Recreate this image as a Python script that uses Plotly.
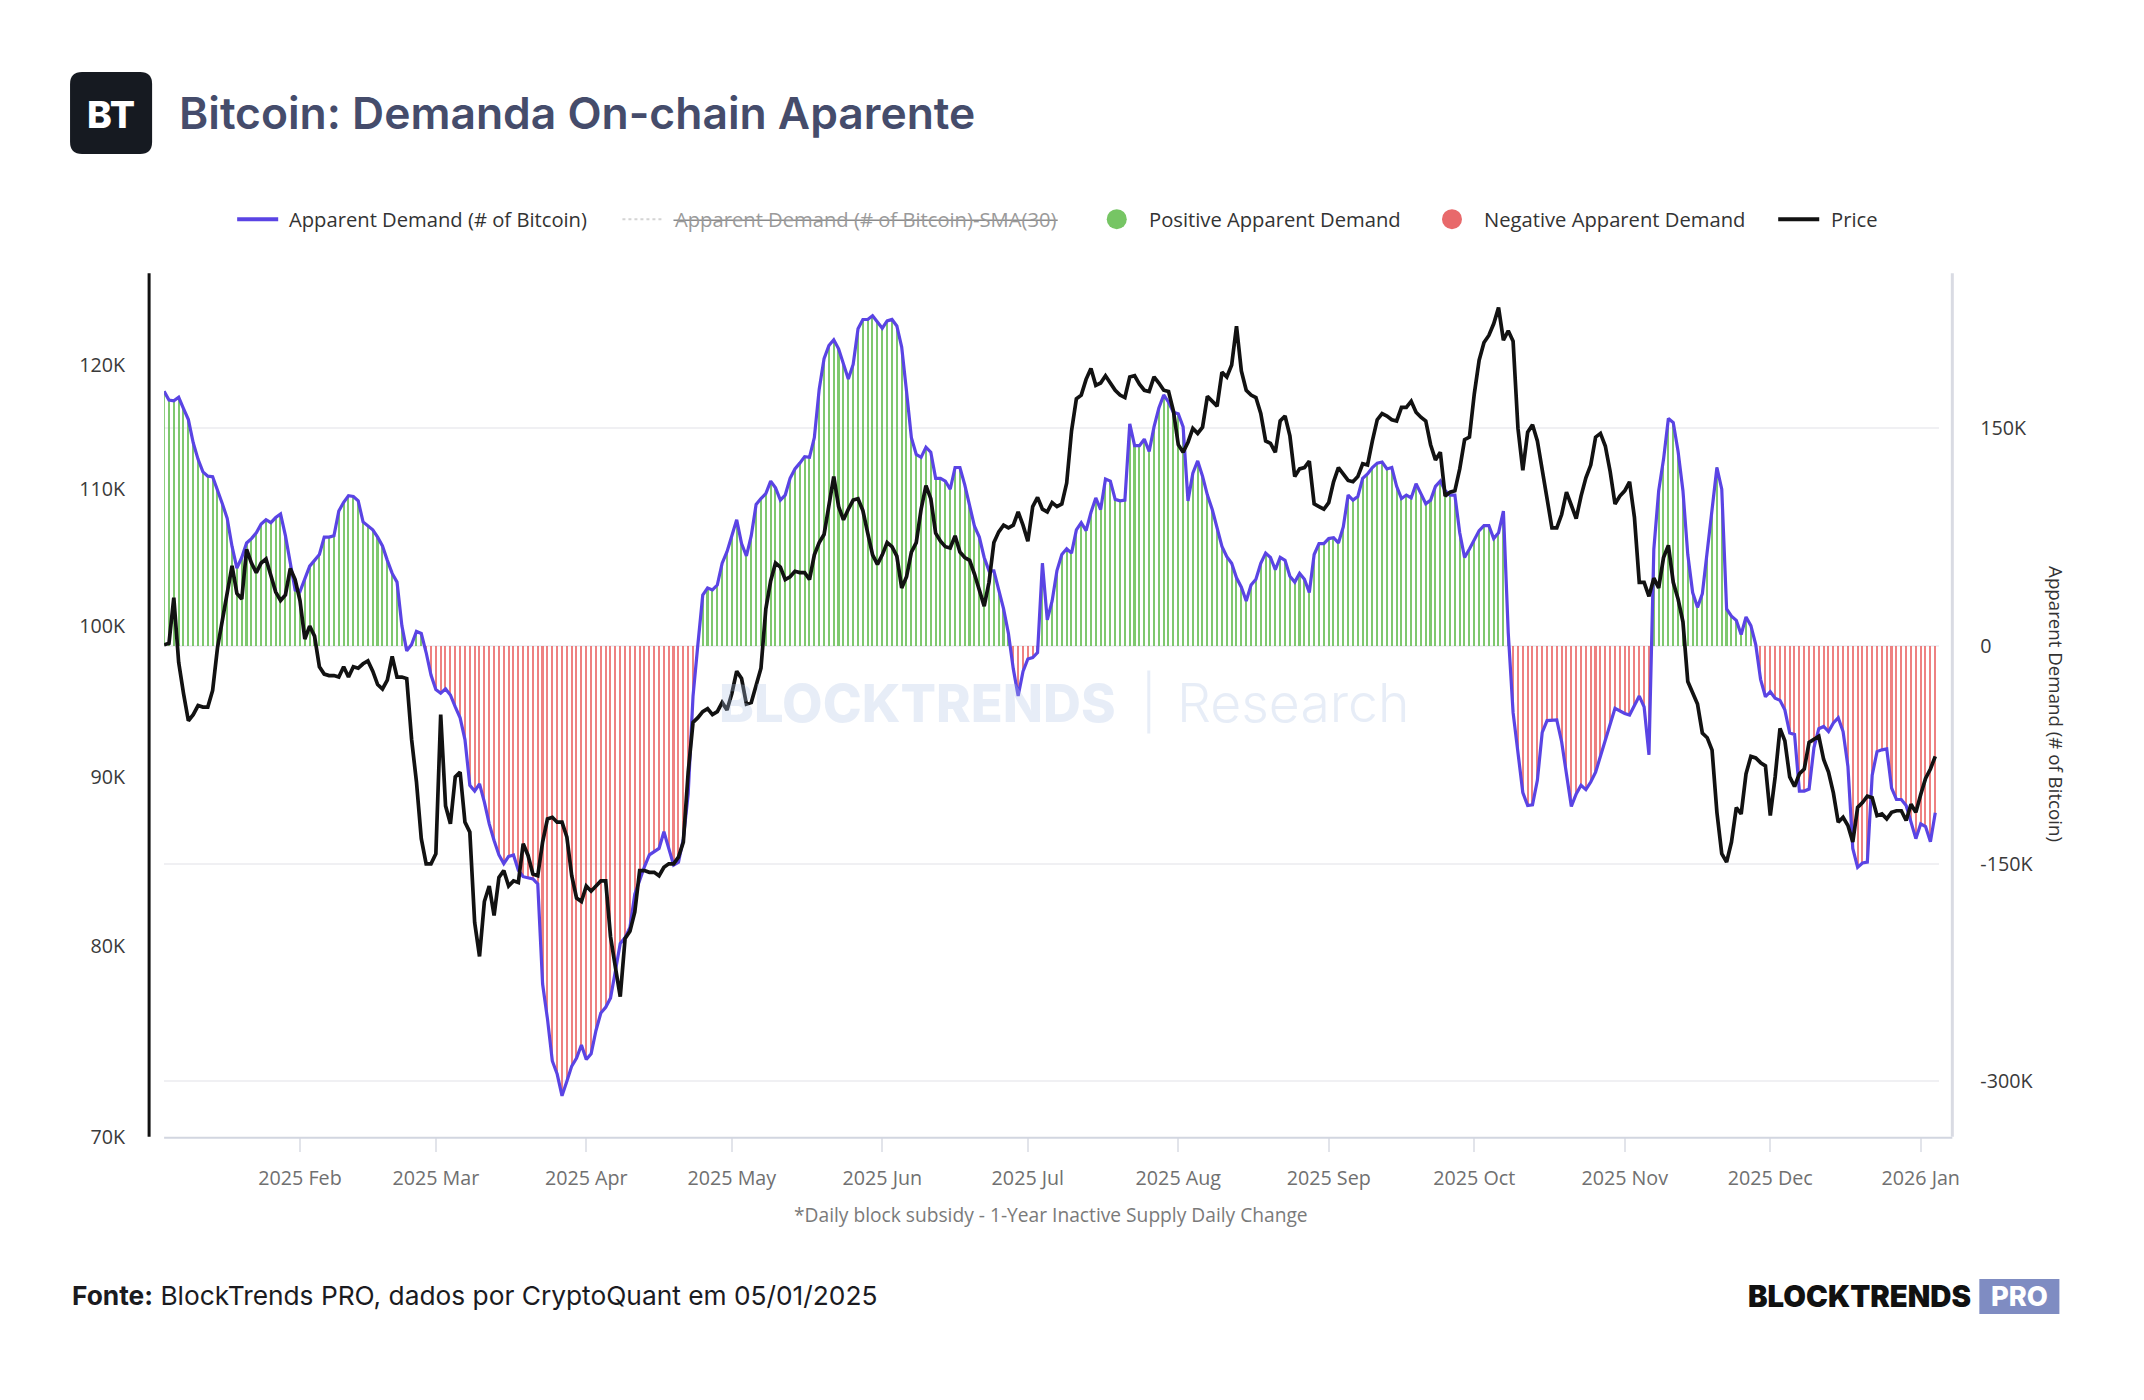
import numpy as np
import pandas as pd
import plotly.graph_objects as go

W, H = 2144, 1400

# ---------------- DATA ----------------
dates = pd.date_range("2025-01-04", "2026-01-04", freq="D")

# Apparent demand (thousands of BTC), daily
demand_k = [
    175.5, 169.5, 169, 171.4, 163.5, 156, 140, 128.6, 120, 117, 116.6, 108, 98, 88, 68.6, 53.6, 61, 71, 74, 78,
    84, 87, 85, 88.5, 91, 76, 57, 38.6, 37.5, 46, 55, 59, 63, 75, 75, 76, 93, 99, 103.5, 103,
    100, 85.5, 82.5, 80, 75, 69, 59, 50, 44, 14, -3.4, 1, 10, 8.6, -4.5, -20, -30, -32.6, -29.6, -33.8,
    -42, -49.5, -64.5, -96, -100, -95, -107.6, -122.6, -134, -144, -150, -145, -144, -154.5, -159, -160, -160.5, -164, -233, -257,
    -286, -295, -310, -300, -289.5, -284, -275, -285, -281, -265, -253, -249, -242.6, -224, -205, -201, -194, -171, -161, -152,
    -144, -142, -139.5, -128, -139.5, -151, -149, -133, -102, -34.5, 1, 35, 40, 38.6, 42, 57, 65, 77, 87, 70.5,
    62, 76, 97.5, 101.6, 105, 113.6, 109, 100.5, 104, 115.5, 122, 126, 130.5, 130, 143.6, 177, 198, 207, 211, 204.8,
    194, 184, 194, 218.6, 225, 225, 227.6, 223.5, 219, 224, 225, 220.5, 206, 175.5, 143.6, 132, 130, 137, 133.5, 115.5,
    115.5, 113.6, 108, 123, 123, 111, 96.8, 82.5, 75, 61, 51.8, 51.8, 38.6, 25.5, 8.6, -15.8, -34.5, -17.6, -9, -8,
    -4.5, 57, 18, 31, 52, 63, 67, 64, 80, 85, 79.5, 92, 102, 94, 115, 113.6, 101, 100, 100.5, 153,
    138, 138, 142.5, 134, 151, 164, 173, 168, 161, 160, 151, 100, 119, 127.5, 117, 104, 94, 82, 68.6, 61.5,
    57, 47, 40.5, 31, 42, 46, 57, 64, 61, 52.5, 61, 59, 48, 44, 50, 46, 36.8, 63, 70.5, 70.5,
    74, 74.6, 71, 82, 104, 100.5, 103, 115.5, 118.5, 123, 126, 126.8, 122, 123, 110, 101.6, 104, 102, 111.8, 105,
    98, 100.5, 110, 113.6, 107, 104, 104, 78, 61, 66.8, 73.5, 79.5, 83, 83, 74, 78, 93, 9, -46, -74,
    -101, -110, -109.5, -92.6, -59.6, -51.4, -51, -51, -66, -87.8, -110.6, -102, -96, -99, -93.8, -87, -76.5, -64.5, -54, -43,
    -45, -46.5, -47.6, -40.5, -34.5, -42, -75, 66.8, 107, 128.6, 156.8, 154, 134, 107, 63, 36.8, 26.6, 36, 65.6, 93,
    123, 108, 25.5, 20.6, 17.6, 7.9, 20, 14, 1, -23, -35, -31.5, -36, -37.5, -44, -60, -61, -100, -100, -98.6,
    -70, -57, -55.5, -59, -53, -49.5, -59, -83, -139.5, -152.6, -149.6, -149, -89, -72.8, -71.6, -71, -98, -105.8, -105.8, -110,
    -120.8, -132.8, -122.6, -124.5, -135, -115,
]

# BTC price (thousands of USD), daily
price_k = [
    98.7, 98.8, 102, 97.5, 95.4, 93.6, 94, 94.6, 94.5, 94.5, 95.6, 98.5, 100.4, 102.5, 104.3, 102.3, 101.9, 105.5, 104.5, 103.8,
    104.5, 104.8, 103.7, 102.4, 101.8, 102.2, 104.1, 103.3, 101.8, 99.1, 100, 99.3, 97.2, 96.7, 96.6, 96.6, 96.5, 97.2, 96.5, 97.2,
    97.1, 97.4, 97.6, 96.9, 96, 95.7, 96.3, 97.9, 96.5, 96.5, 96.4, 92.4, 89.7, 86.2, 84.7, 84.7, 85.3, 94, 88.2, 87.1,
    90, 90.3, 87.2, 86.6, 81.3, 79.4, 82.5, 83.4, 81.7, 83.9, 84.3, 83.4, 83.7, 83.6, 85.9, 85.2, 84.1, 84, 86, 87.4,
    87.5, 87.2, 87.2, 86.3, 84, 82.7, 82.5, 83.4, 83.1, 83.4, 83.7, 83.7, 80.5, 78.8, 77.2, 80.4, 80.8, 81.9, 84.3, 84.3,
    84.2, 84.2, 84, 84.5, 84.7, 84.7, 85.1, 86, 90.3, 93.5, 93.8, 94.2, 94.4, 94, 94.2, 94.8, 94.3, 95.4, 96.9, 96.4,
    94.7, 94.8, 95.9, 97.1, 101.2, 103.2, 104.5, 104.2, 103.3, 103.5, 103.9, 103.8, 103.8, 103.3, 105.1, 106, 106.6, 108.7, 111, 108.7,
    107.7, 108.5, 109.2, 109.3, 108.4, 106.7, 105.1, 104.4, 105.1, 106, 105.7, 105, 102.7, 103.5, 105.3, 106, 108.5, 110.3, 109.3, 106.7,
    106.1, 105.7, 105.6, 106.5, 105.3, 104.9, 104.7, 103.7, 102.5, 101.4, 103.1, 106, 106.8, 107.3, 107.1, 107.3, 108.3, 107.3, 106.1, 108.7,
    109.4, 108.5, 108.3, 109, 108.7, 108.9, 110.5, 114.6, 117.2, 117.5, 118.8, 119.7, 118.3, 118.5, 119.1, 118.5, 117.9, 117.5, 117.3, 119,
    119.1, 118.4, 117.9, 117.8, 119, 118.5, 117.9, 117.8, 116.2, 113.5, 112.9, 113.7, 114.8, 114.4, 114.9, 117.4, 117, 116.6, 119.4, 119,
    120, 123.3, 119.5, 117.9, 117.5, 117.3, 116, 113.8, 113.6, 112.9, 115.4, 115.8, 114.2, 111, 111.6, 111.7, 112.2, 108.9, 108.7, 108.5,
    109, 110.6, 111.7, 111.2, 110.7, 110.6, 111, 112, 111.9, 113.8, 115.5, 116, 115.8, 115.5, 115.4, 116.5, 116.5, 117, 116.1, 115.7,
    115.4, 113.5, 112.3, 112.9, 109.5, 109.8, 109.9, 111.6, 113.9, 114.1, 117.6, 120.4, 121.9, 122.5, 123.5, 124.9, 122.1, 122.9, 122, 114.8,
    111.5, 114.5, 115.1, 113.8, 111.7, 109.3, 107.1, 107.1, 108.1, 109.8, 108.8, 107.8, 109.5, 110.9, 111.9, 114.1, 114.4, 113.4, 111.4, 108.9,
    109.5, 109.9, 110.6, 107.9, 103.1, 103.1, 102.1, 103.4, 102.7, 104.9, 105.8, 103.1, 101.9, 100.3, 96.2, 95.4, 94.7, 92.8, 92.5, 91.7,
    87.8, 85.3, 84.8, 86, 88.1, 87.7, 90.2, 91.3, 91.2, 90.9, 90.7, 87.6, 90, 93.1, 92.3, 90, 89.4, 90.2, 90.5, 92.2,
    92.4, 92.6, 91.1, 90.3, 89, 87.2, 87.5, 87, 86, 88.1, 88.4, 88.8, 88.7, 87.6, 87.7, 87.4, 87.8, 87.9, 87.9, 87.3,
    88.3, 87.8, 88.9, 89.9, 90.5, 91.3,
]

month_ticks = ["2025-02-01", "2025-03-01", "2025-04-01", "2025-05-01", "2025-06-01", "2025-07-01",
               "2025-08-01", "2025-09-01", "2025-10-01", "2025-11-01", "2025-12-01", "2026-01-01"]
month_labels = ["2025 Feb", "2025 Mar", "2025 Apr", "2025 May", "2025 Jun", "2025 Jul",
                "2025 Aug", "2025 Sep", "2025 Oct", "2025 Nov", "2025 Dec", "2026 Jan"]
price_ticks = [70000, 80000, 90000, 100000, 110000, 120000]
price_labels = ["70K", "80K", "90K", "100K", "110K", "120K"]
demand_ticks = [-300000, -150000, 0, 150000]
demand_labels = ["-300K", "-150K", "0", "150K"]

demand = np.array(demand_k) * 1000
price = np.array(price_k) * 1000

# ---------------- STYLE / LAYOUT ----------------
C_DEMAND = "#5a44e4"
C_POS = "rgba(104,190,86,0.85)"
C_NEG = "rgba(234,98,98,0.80)"
C_PRICE = "#121212"

# the captured page comes out slightly shrunk; compensate so positions match
S = 1 / 0.99


def px(x):
    return x * S / W


def py(y):
    return 1 - y * S / H


def fs(size):
    return round(size * S, 1)


PL, PR, PT, PB = 164, 1938, 273, 1136
DAY_MS = 86400000

bar_colors = [C_POS if v >= 0 else C_NEG for v in demand]

fig = go.Figure()
fig.add_trace(go.Bar(x=dates, y=demand, marker=dict(color=bar_colors, line=dict(width=0)),
                     width=0.42 * DAY_MS, yaxis="y", showlegend=False, hoverinfo="skip"))
fig.add_trace(go.Scatter(x=dates, y=demand, mode="lines", line=dict(color=C_DEMAND, width=3.2),
                         yaxis="y", showlegend=False))
fig.add_trace(go.Scatter(x=dates, y=price, mode="lines", line=dict(color=C_PRICE, width=3.7),
                         yaxis="y2", showlegend=False))

x_start = dates[0]
x_end = dates[-1] + pd.Timedelta(hours=20)

# demand axis range from pixel layout: 0 at y=645.5, 217.5 px per 150K
zero_y, per150 = 645.5, 217.5
d_min = -(PB - zero_y) / per150 * 150000
d_max = (zero_y - PT) / per150 * 150000
# price axis (log): 70K at bottom, 1431 px per ln unit
p_top = 70000 * np.exp((PB - PT) / 1431.0)

tick_font = dict(family="Open Sans", size=fs(19.5), color="#3a3a3a")

fig.update_layout(
    width=W, height=H,
    margin=dict(l=0, r=0, t=0, b=0),
    paper_bgcolor="white", plot_bgcolor="white",
    bargap=0,
    xaxis=dict(
        domain=[px(PL), px(PR)], type="date", range=[x_start, x_end],
        tickvals=month_ticks, ticktext=month_labels,
        tickfont=dict(family="Open Sans", size=fs(19.5), color="#707070"),
        ticks="outside", ticklen=14, tickcolor="#e2e4ea", tickwidth=1.5,
        showline=False, showgrid=False, zeroline=False, ticklabelstandoff=10,
    ),
    yaxis=dict(
        domain=[py(PB), py(PT)], side="right", range=[d_min, d_max],
        tickvals=demand_ticks, ticktext=demand_labels, tickfont=tick_font,
        showgrid=True, gridcolor="#f0f0f3", gridwidth=1.5, zeroline=False,
        showline=False, ticks="", ticklabelstandoff=40,
    ),
    yaxis2=dict(
        overlaying="y", side="left", type="log",
        range=[np.log10(70000), np.log10(p_top)],
        tickvals=price_ticks, ticktext=price_labels, tickfont=tick_font,
        showgrid=False, zeroline=False, showline=False, ticks="", ticklabelstandoff=38,
    ),
)

shapes = []
annotations = []


def ann(text, x, y, size, color, xanchor="left", family="Open Sans", weight=None, **kw):
    f = dict(family=family, size=fs(size), color=color)
    if weight:
        f["weight"] = weight
    d = dict(text=text, x=px(x), y=py(y), xref="paper", yref="paper", showarrow=False,
             xanchor=xanchor, yanchor="middle", font=f)
    d.update(kw)
    annotations.append(d)


def hline(x0, x1, y, color, width, dash="solid"):
    shapes.append(dict(type="line", xref="paper", yref="paper", x0=px(x0), x1=px(x1), y0=py(y), y1=py(y),
                       line=dict(color=color, width=width, dash=dash)))


# axis lines
hline(164, 1951, PB + 1, "#d2d6e0", 2)
shapes.append(dict(type="line", xref="paper", yref="paper", x0=px(149), x1=px(149), y0=py(PT), y1=py(PB),
                   line=dict(color="#111111", width=3)))
shapes.append(dict(type="line", xref="paper", yref="paper", x0=px(1951), x1=px(1951), y0=py(PT), y1=py(PB),
                   line=dict(color="#d9dbe3", width=3)))


def rounded_rect(x0, y0, x1, y1, r):
    rx, ry = r * S / W, r * S / H
    X0, X1, Y0, Y1 = px(x0), px(x1), py(y1), py(y0)
    return (f"M {X0+rx},{Y0} L {X1-rx},{Y0} Q {X1},{Y0} {X1},{Y0+ry} L {X1},{Y1-ry} Q {X1},{Y1} {X1-rx},{Y1} "
            f"L {X0+rx},{Y1} Q {X0},{Y1} {X0},{Y1-ry} L {X0},{Y0+ry} Q {X0},{Y0} {X0+rx},{Y0} Z")


# logo + title
shapes.append(dict(type="path", xref="paper", yref="paper", path=rounded_rect(70, 72, 152, 154, 12),
                   fillcolor="#161a21", line=dict(width=0)))
ann("BT", 111, 114, 37, "white", xanchor="center", family="Inter", weight=800)
ann("Bitcoin: Demanda On-chain Aparente", 177, 113, 44, "#454c6b", family="Inter", weight=600)

# custom legend
LY = 219
hline(237, 278, LY, C_DEMAND, 4)
ann("Apparent Demand (# of Bitcoin)", 287, LY, 20, "#333333")
hline(622, 663, LY, "#d4d4d4", 2, "dot")
ann("Apparent Demand (# of Bitcoin)-SMA(30)", 673, LY, 20, "#9a9a9a")
hline(673, 1057, LY + 1, "#8a8a8a", 1.5)
shapes.append(dict(type="circle", xref="paper", yref="paper", x0=px(1106), x1=px(1126), y0=py(LY + 10), y1=py(LY - 10),
                   fillcolor="#76c564", line=dict(width=0)))
ann("Positive Apparent Demand", 1146, LY, 20, "#333333")
shapes.append(dict(type="circle", xref="paper", yref="paper", x0=px(1441), x1=px(1461), y0=py(LY + 10), y1=py(LY - 10),
                   fillcolor="#e8696b", line=dict(width=0)))
ann("Negative Apparent Demand", 1481, LY, 20, "#333333")
hline(1777, 1818, LY, C_PRICE, 4)
ann("Price", 1828, LY, 20, "#333333")

# right axis title
ann("Apparent Demand (# of Bitcoin)", 2055, 704, 18.5, "#333333", xanchor="center", textangle=90)

# x-axis note
ann("*Daily block subsidy - 1-Year Inactive Supply Daily Change", 1050, 1214, 19, "#7a7a7a", xanchor="center")

# watermark
wm = "rgba(175,195,228,0.30)"
ann("BLOCKTRENDS", 917, 702, 52, wm, xanchor="center", family="Inter", weight=800)
shapes.append(dict(type="line", xref="paper", yref="paper", x0=px(1148), x1=px(1148), y0=py(670), y1=py(733),
                   line=dict(color=wm, width=3)))
ann("Research", 1293, 702, 53, wm, xanchor="center", family="Inter", weight=300)

# footer
ann("<b>Fonte:</b> BlockTrends PRO, dados por CryptoQuant em 05/01/2025", 70, 1295, 26, "#1b1b1f", family="Inter")
ann("BLOCKTRENDS", 1972, 1296, 29, "#111111", xanchor="right", family="Inter", weight=900)
shapes.append(dict(type="rect", xref="paper", yref="paper", x0=px(1978), x1=px(2058), y0=py(1313), y1=py(1278),
                   fillcolor="#7f8cc2", line=dict(width=0)))
ann("PRO", 2018, 1296, 27, "white", xanchor="center", family="Inter", weight=800)

fig.update_layout(shapes=shapes, annotations=annotations)

fig.write_html("out.html")
